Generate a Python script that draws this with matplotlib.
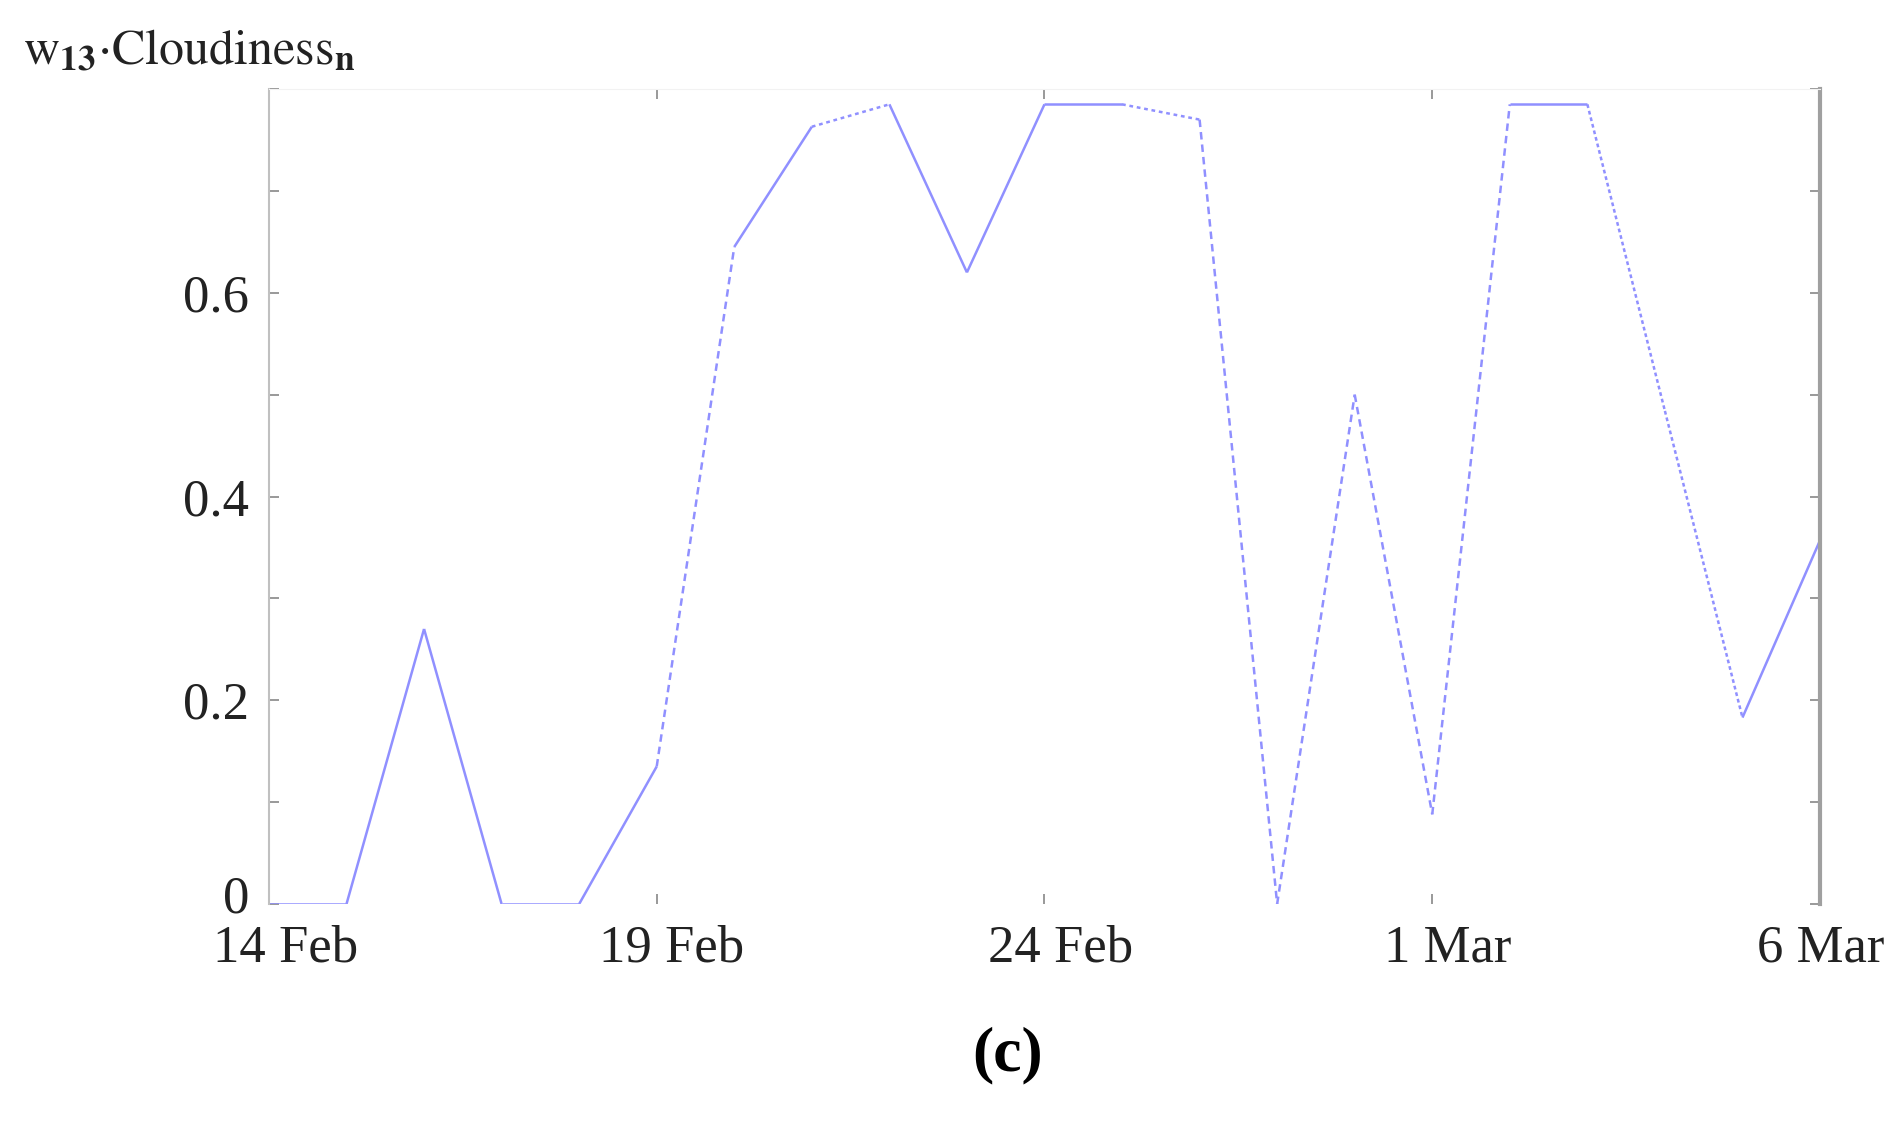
import pandas as pd
import matplotlib
matplotlib.use('Agg')
import matplotlib.pyplot as plt
import matplotlib.dates as mdates
from matplotlib.ticker import MultipleLocator, FixedLocator
from matplotlib.transforms import ScaledTranslation

# Datos diarios (14 Feb - 6 Mar)
dates = pd.date_range('2015-02-14', '2015-03-06', freq='D')
cloudiness = [0.0, 0.0, 0.27, 0.0, 0.0, 0.135, 0.645, 0.763, 0.785, 0.62,
              0.785, 0.785, 0.77, 0.0, 0.5, 0.088, 0.785, 0.785, 0.484, 0.183,
              0.357]
tick_dates = pd.to_datetime(['2015-02-14', '2015-02-19', '2015-02-24',
                             '2015-03-01', '2015-03-06'])
tick_labels = ['14 Feb', '19 Feb', '24 Feb', '1 Mar', '6 Mar']
y_ticks = [0, 0.2, 0.4, 0.6]
y_labels = ['0', '0.2', '0.4', '0.6']

# estilo de cada tramo (solido / discontinuo)
seg_styles = ['-', '-', '-', '-', '-', (0, (3, 2)), '-', (0, (1.5, 1.5)),
              '-', '-', '-', (0, (1.5, 1.5)), (0, (3, 2)), (0, (3, 2)),
              (0, (3, 2)), (0, (3, 2)), '-', (0, (1.5, 1.2)), (0, (1.5, 1.2)), '-']

plt.rcParams['font.family'] = ['Liberation Serif', 'DejaVu Serif']
plt.rcParams['mathtext.fontset'] = 'stix'

fig = plt.figure(figsize=(19.02, 11.43), dpi=100)
ax = fig.add_axes([0.1414, 0.2091, 0.8155, 0.713])

line_color = '#9090ff'
for i in range(len(dates) - 1):
    ax.plot(dates[i:i + 2], cloudiness[i:i + 2], color=line_color,
            linewidth=1.8, linestyle=seg_styles[i], solid_capstyle='butt')

ax.set_xlim(dates[0], dates[-1])
ax.set_ylim(0, 0.8)

ax.xaxis.set_major_locator(FixedLocator(mdates.date2num(tick_dates)))
ax.set_xticklabels(tick_labels)
ax.yaxis.set_major_locator(FixedLocator(y_ticks))
ax.set_yticklabels(y_labels)
ax.yaxis.set_minor_locator(MultipleLocator(0.1))

ax.tick_params(axis='both', which='both', direction='in', color='#888888',
               length=7, width=1.2, top=True, right=True,
               labelsize=38, labelcolor='#222222')
ax.tick_params(axis='x', pad=15)
ax.tick_params(axis='y', pad=14)

# las etiquetas del eje x van algo desplazadas a la derecha
x_shift = [17, 15, 16, 15, 1]
for lbl, dx in zip(ax.get_xticklabels(), x_shift):
    lbl.set_transform(lbl.get_transform() + ScaledTranslation(dx / 100, 0, fig.dpi_scale_trans))
# el "0" va un poco mas arriba
lbl0 = ax.get_yticklabels()[0]
lbl0.set_transform(lbl0.get_transform() + ScaledTranslation(0, 0.10, fig.dpi_scale_trans))

ax.spines['bottom'].set_visible(False)
ax.spines['top'].set_color('#f2f2f2')
ax.spines['left'].set_color('#c0c0c0')
ax.spines['left'].set_linewidth(1.5)
ax.spines['right'].set_color('#a0a0a0')
ax.spines['right'].set_linewidth(3)

fig.text(0.012, 0.955, r'$\mathrm{w}_{\mathbf{13}}{\cdot}\mathrm{Cloudiness}_{\mathbf{n}}$',
         fontsize=36, color='#222222', va='center', ha='left')
fig.text(0.53, 0.077, '(c)', fontsize=46, fontweight='bold', ha='center', va='center')

plt.savefig('out.png', dpi=100)
